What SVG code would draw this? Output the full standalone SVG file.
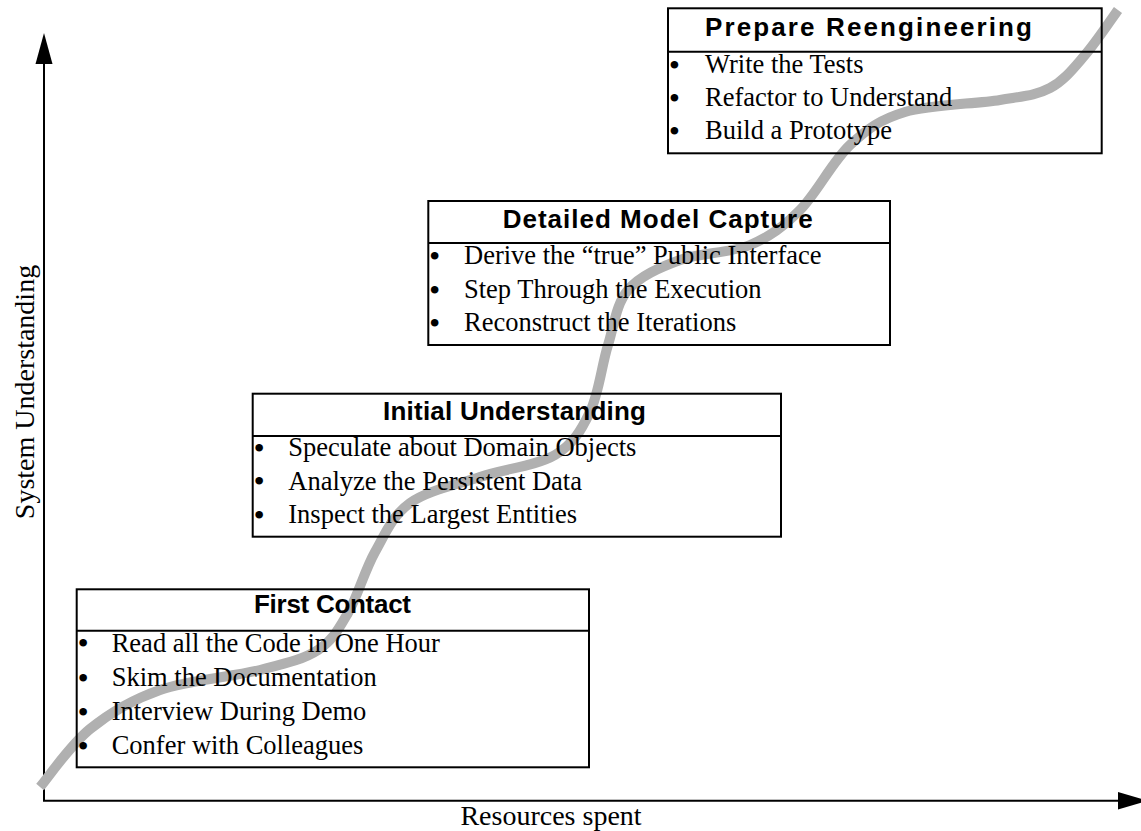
<svg xmlns="http://www.w3.org/2000/svg" width="1141" height="831" viewBox="0 0 1141 831">
<style>
.box{fill:none;stroke:#000;stroke-width:2}
.div{stroke:#000;stroke-width:2}
.title{font-family:"Liberation Sans",Arial,sans-serif;font-weight:bold;font-size:26px;fill:#000;text-anchor:middle}
.item{font-family:"Liberation Serif","Times New Roman",serif;font-size:26.5px;fill:#000}
.bul{font-family:"Liberation Serif","Times New Roman",serif;font-size:28px;font-weight:bold;fill:#000}
.axis{stroke:#000;stroke-width:2;fill:none}
.lbl{font-family:"Liberation Serif","Times New Roman",serif;font-size:28px;fill:#000;text-anchor:middle}
.curve{fill:none;stroke:#b0b0b0;stroke-width:10;stroke-linejoin:round;stroke-linecap:butt}
</style>
<rect width="1141" height="831" fill="#fff"/>
<g id="axes">
<line class="axis" x1="44" y1="60" x2="44" y2="801"/>
<polygon points="44,33 35.5,64 52.5,64" fill="#000"/>
<line class="axis" x1="43" y1="800.7" x2="1122" y2="800.7"/>
<polygon points="1118,792 1148,800.7 1118,809.4" fill="#000"/>
<text class="lbl" transform="translate(33.5,392) rotate(-90)" x="0" y="0">System Understanding</text>
<text class="lbl" x="551" y="825">Resources spent</text>
</g>
<g id="connectors">
<path class="curve" d="M40,787 C48.3,777.3 70,745.2 90,729 C110,712.8 131.7,699.8 160,690 C188.3,680.2 233.7,676.7 260,670 C286.3,663.3 303.3,659.5 318,650 C332.7,640.5 338.5,629.3 348,613 C357.5,596.7 364.7,570.3 375,552 C385.3,533.7 392.5,515.5 410,503 C427.5,490.5 455.8,485 480,477 C504.2,469 536.7,465.8 555,455 C573.3,444.2 581.2,430.3 590,412 C598.8,393.7 601.7,365.3 608,345 C614.3,324.7 616,304.2 628,290 C640,275.8 659.7,267.5 680,260 C700.3,252.5 730,253.3 750,245 C770,236.7 783.3,226.7 800,210 C816.7,193.3 832.5,161.3 850,145 C867.5,128.7 880,119.5 905,112 C930,104.5 975.8,104 1000,100 C1024.2,96 1035.8,95.5 1050,88 C1064.2,80.5 1073.7,68 1085,55 C1096.3,42 1112.5,17.5 1118,10"/>
</g>
<g id="prepare-reengineering">
<rect class="box" x="668" y="8.3" width="433.7" height="145"/>
<line class="div" x1="668" y1="51.7" x2="1101.7" y2="51.7"/>
<text class="title" x="868.5" y="36" font-size="28" textLength="327" lengthAdjust="spacing">Prepare Reengineering</text>
<text class="bul" x="669.5" y="73.5">•</text><text class="item" x="705" y="72.7">Write the Tests</text>
<text class="bul" x="669.5" y="106.8">•</text><text class="item" x="705" y="106">Refactor to Understand</text>
<text class="bul" x="669.5" y="140.1">•</text><text class="item" x="705" y="139.3">Build a Prototype</text>
</g>
<g id="detailed-model-capture">
<rect class="box" x="428.3" y="201" width="461.7" height="144"/>
<line class="div" x1="428.3" y1="243" x2="890" y2="243"/>
<text class="title" x="657.7" y="228" textLength="310" lengthAdjust="spacing">Detailed Model Capture</text>
<text class="bul" x="429.8" y="264.8">•</text><text class="item" x="464" y="264">Derive the “true” Public Interface</text>
<text class="bul" x="429.8" y="298.5">•</text><text class="item" x="464" y="297.7">Step Through the Execution</text>
<text class="bul" x="429.8" y="332.2">•</text><text class="item" x="464" y="331.4">Reconstruct the Iterations</text>
</g>
<g id="initial-understanding">
<rect class="box" x="252.7" y="393.7" width="528.3" height="143"/>
<line class="div" x1="252.7" y1="436" x2="781" y2="436"/>
<text class="title" x="514.5" y="420" textLength="263" lengthAdjust="spacing">Initial Understanding</text>
<text class="bul" x="254.2" y="456.8">•</text><text class="item" x="288.3" y="456">Speculate about Domain Objects</text>
<text class="bul" x="254.2" y="490.3">•</text><text class="item" x="288.3" y="489.5">Analyze the Persistent Data</text>
<text class="bul" x="254.2" y="523.8">•</text><text class="item" x="288.3" y="523">Inspect the Largest Entities</text>
</g>
<g id="first-contact">
<rect class="box" x="76.7" y="589.3" width="512.3" height="178"/>
<line class="div" x1="76.7" y1="630.7" x2="589" y2="630.7"/>
<text class="title" x="332.5" y="613.3" textLength="157" lengthAdjust="spacing">First Contact</text>
<text class="bul" x="78.2" y="652.3">•</text><text class="item" x="111.7" y="651.5">Read all the Code in One Hour</text>
<text class="bul" x="78.2" y="686.5">•</text><text class="item" x="111.7" y="685.7">Skim the Documentation</text>
<text class="bul" x="78.2" y="720.7">•</text><text class="item" x="111.7" y="719.9">Interview During Demo</text>
<text class="bul" x="78.2" y="754.9">•</text><text class="item" x="111.7" y="754.1">Confer with Colleagues</text>
</g>
</svg>
